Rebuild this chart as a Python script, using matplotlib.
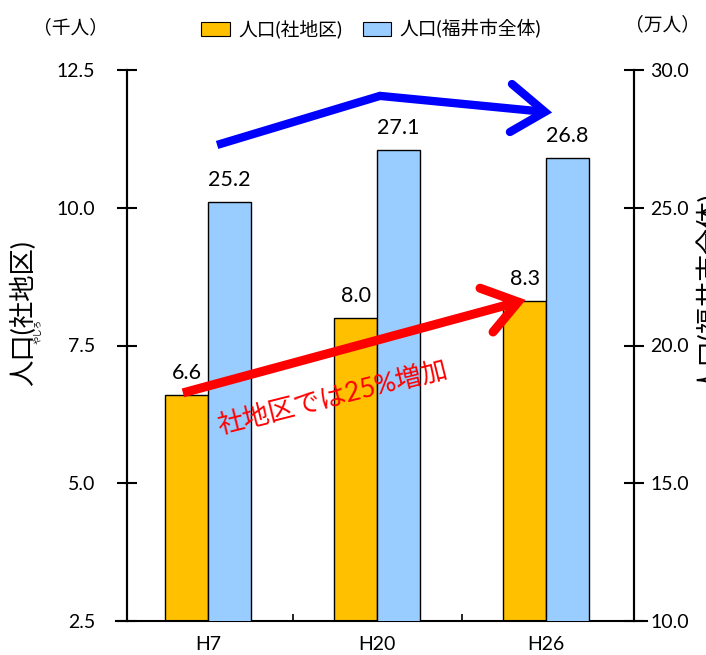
import numpy as np
import matplotlib.pyplot as plt
from matplotlib.patches import Patch

plt.rcParams['font.family'] = ['Lato', 'Noto Sans CJK JP', 'DejaVu Sans']

# data
years = ['H7', 'H20', 'H26']
pop_district = [6.6, 8.0, 8.3]      # 千人 (社地区)
pop_city = [25.2, 27.1, 26.8]       # 万人 (福井市全体)
left_ticks = [2.5, 5.0, 7.5, 10.0, 12.5]
right_ticks = [10.0, 15.0, 20.0, 25.0, 30.0]

c_orange = '#FFC000'
c_blue = '#99CCFF'

W, H = 706, 655
fig = plt.figure(figsize=(W / 100, H / 100), dpi=100)
ax = fig.add_axes([127 / W, 1 - 621 / H, (634 - 127) / W, (621 - 70) / H])
ax2 = ax.twinx()

x = np.arange(len(years))
bw = 0.254
ax.bar(x - bw / 2, pop_district, bw, color=c_orange, edgecolor='black', linewidth=1, zorder=2)
ax2.bar(x + bw / 2, pop_city, bw, color=c_blue, edgecolor='black', linewidth=1, zorder=2)

# data labels
for xi, v in zip(x, pop_district):
    ax.annotate(f'{v:.1f}', (xi - bw / 2, v), xytext=(0, 16), textcoords='offset points',
                ha='center', va='center', fontsize=15.5)
for xi, v in zip(x, pop_city):
    ax2.annotate(f'{v:.1f}', (xi + bw / 2, v), xytext=(0, 16), textcoords='offset points',
                 ha='center', va='center', fontsize=15.5)

# blue trend arrow (right axis units)
ax2.plot([0.053, 1.017, 1.993], [27.28, 29.06, 28.48], color='#0000FF', lw=6,
         solid_capstyle='butt', solid_joinstyle='miter', zorder=5)
ax2.plot([1.798, 1.993, 1.786], [29.49, 28.48, 27.75], color='#0000FF', lw=6,
         solid_capstyle='round', solid_joinstyle='miter', zorder=5)

# red trend arrow (left axis units, drawn on top layer)
ax2.plot([-0.149, 1.834], [6.64, 8.29], color='#FF0000', lw=6.5,
         solid_capstyle='butt', transform=ax.transData, zorder=5)
ax2.plot([1.609, 1.834, 1.686], [8.54, 8.29, 7.745], color='#FF0000', lw=6.5,
         solid_capstyle='round', solid_joinstyle='miter', transform=ax.transData, zorder=5)
ax2.text(0.74, 6.56, '社地区では25%増加', color='#FF0000', fontsize=19, rotation=14,
         ha='center', va='center', rotation_mode='anchor', transform=ax.transData, zorder=6)

ax.set_xlim(-0.48, 2.52)
ax.set_ylim(2.5, 12.5)
ax2.set_ylim(10, 30)
ax.set_yticks(left_ticks)
ax.set_yticklabels([f'{v:.1f}' for v in left_ticks])
ax2.set_yticks(right_ticks)
ax2.set_yticklabels([f'{v:.1f}' for v in right_ticks])

ax.set_xticks(x)
ax.set_xticklabels(years)
ax.set_xticks([0.5, 1.5], minor=True)
ax.tick_params(axis='x', which='major', length=0, pad=11, labelsize=14)
ax.tick_params(axis='x', which='minor', direction='in', length=5, width=1.2)
ax.tick_params(axis='y', direction='inout', length=14, width=1.5, pad=16, labelsize=14)
ax2.tick_params(axis='y', direction='inout', length=14, width=1.5, pad=4.5, labelsize=14)

for a in (ax, ax2):
    a.spines['top'].set_visible(False)
    a.spines['bottom'].set_visible(False)
    a.spines['left'].set_linewidth(1.5)
    a.spines['right'].set_linewidth(1.5)
ax.plot([-0.022, 1.026], [0, 0], transform=ax.transAxes, color='black', lw=1.5, clip_on=False)

# axis titles
fig.text(23 / W, 1 - 313 / H, '人口(社地区)', rotation=90, ha='center', va='center', fontsize=19)
fig.text(37 / W, 1 - 331 / H, 'やしろ', rotation=90, ha='center', va='center', fontsize=6)
fig.text(710 / W, 1 - 293 / H, '人口(福井市全体)', rotation=90, ha='center', va='center', fontsize=19)
fig.text(70 / W, 1 - 27 / H, '（千人）', ha='center', va='center', fontsize=13.5)
fig.text(662 / W, 1 - 24 / H, '（万人）', ha='center', va='center', fontsize=13.5)

handles = [Patch(facecolor=c_orange, edgecolor='black', linewidth=0.8, label='人口(社地区)'),
           Patch(facecolor=c_blue, edgecolor='black', linewidth=0.8, label='人口(福井市全体)')]
fig.legend(handles=handles, loc='center', bbox_to_anchor=(371 / W, 1 - 29 / H), ncol=2,
           frameon=False, fontsize=13.5, handlelength=1.5, handleheight=0.75,
           handletextpad=0.45, columnspacing=1.1)

fig.savefig('out.png', dpi=100)
